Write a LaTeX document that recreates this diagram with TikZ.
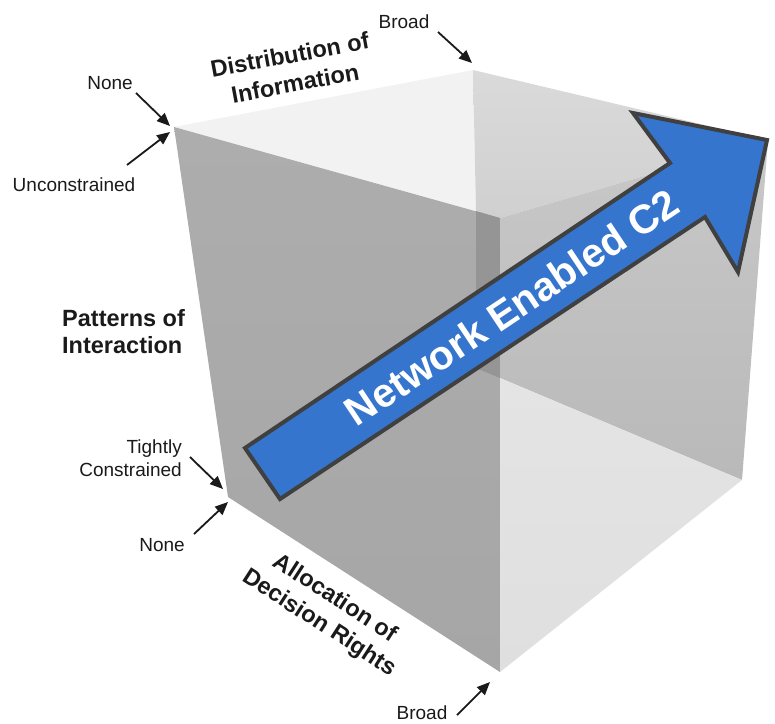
\documentclass[tikz,border=0pt]{standalone}
\usepackage{fontspec}
\setmainfont{Liberation Sans}
\usetikzlibrary{arrows.meta}
\definecolor{topL}{HTML}{F2F2F2}
\definecolor{topRa}{HTML}{DADADA}
\definecolor{topRb}{HTML}{D0D0D0}
\definecolor{leftFa}{HTML}{ADADAD}
\definecolor{leftFb}{HTML}{A6A6A6}
\definecolor{stripF}{HTML}{959595}
\definecolor{rightUa}{HTML}{C8C8C8}
\definecolor{rightUb}{HTML}{B9B9B9}
\definecolor{rightLa}{HTML}{E4E4E4}
\definecolor{rightLb}{HTML}{DFDFDF}
\definecolor{arrBlue}{HTML}{3575CD}
\definecolor{arrEdge}{HTML}{404040}
\definecolor{ink}{HTML}{1A1A1A}
\tikzset{
  lbl/.style={font=\fontsize{19}{23}\selectfont, inner sep=0pt, text=ink},
  ttl/.style={font=\bfseries\fontsize{23.5}{29}\selectfont, inner sep=0pt, text=ink, align=center},
  sarr/.style={line width=1.8pt, draw=ink, -{Triangle[length=13pt,width=11pt]}},
  bigarrow/.style={draw=arrEdge, line width=4pt, fill=arrBlue, line join=miter},
}
\begin{document}
\begin{tikzpicture}[x=1pt,y=-1pt]
\useasboundingbox (0,0) rectangle (775,723);
% cube corners
\coordinate (A) at (174,127);
\coordinate (B) at (473,70);
\coordinate (C) at (768,140);
\coordinate (D) at (500,218);
\coordinate (E) at (500,672);
\coordinate (F) at (228,497);
\coordinate (G) at (742,480);
\coordinate (H) at (476,368);
\coordinate (P) at (476,211);
\coordinate (Q) at (500,378);
% faces
\fill[topL] (A) -- (B) -- (P) -- cycle;
\shade[top color=topRa, bottom color=topRb] (B) -- (C) -- (D) -- (P) -- cycle;
\shade[top color=leftFa, bottom color=leftFb] (A) -- (D) -- (E) -- (F) -- cycle;
\fill[stripF] (P) -- (D) -- (Q) -- (H) -- cycle;
\shade[top color=rightUa, bottom color=rightUb] (D) -- (C) -- (G) -- (Q) -- cycle;
\shade[top color=rightLa, bottom color=rightLb] (Q) -- (G) -- (E) -- cycle;
% big arrow
\coordinate (t1) at (245,448);
\coordinate (n1) at (670,163);
\coordinate (b1) at (633,113);
\coordinate (tip) at (767,140);
\coordinate (b2) at (738,272);
\coordinate (n2) at (705,217);
\coordinate (t2) at (280,499);
\draw[bigarrow] (t1) -- (n1) -- (b1) -- (tip) -- (b2) -- (n2) -- (t2) -- cycle;
\node[rotate=33.7, text=white, inner sep=0pt, font=\bfseries\fontsize{40.5}{48}\selectfont] (nec) at (511.8,307.2) {Network Enabled C2};
% titles
\node[ttl, rotate=10.5] (dist) at (292.5,69) {Distribution of\\Information};
\node[ttl, align=left, anchor=west, font=\bfseries\fontsize{23.5}{27}\selectfont] (pat) at (62,331.5) {Patterns of\\Interaction};
\node[ttl, rotate=-32.8] (alloc) at (327,611) {Allocation of\\Decision Rights};
% small labels
\node[lbl] (broadT) at (404,22) {Broad};
\node[lbl] (noneT) at (110,83) {None};
\node[lbl] (uncon) at (74,185) {Unconstrained};
\node[lbl, align=right, anchor=east] (tight) at (182,458.5) {Tightly\\Constrained};
\node[lbl] (noneB) at (162,545) {None};
\node[lbl] (broadB) at (422,713) {Broad};
% small arrows
\coordinate (s1) at (438,32);  \coordinate (e1) at (472,63);
\coordinate (s2) at (136,93);  \coordinate (e2) at (170,126);
\coordinate (s3) at (127,165); \coordinate (e3) at (170,132);
\coordinate (s4) at (190,457); \coordinate (e4) at (223,489);
\coordinate (s5) at (194,534); \coordinate (e5) at (228,502);
\coordinate (s6) at (457,715); \coordinate (e6) at (490,682);
\draw[sarr] (s1) -- (e1);
\draw[sarr] (s2) -- (e2);
\draw[sarr] (s3) -- (e3);
\draw[sarr] (s4) -- (e4);
\draw[sarr] (s5) -- (e5);
\draw[sarr] (s6) -- (e6);
\end{tikzpicture}
\end{document}
